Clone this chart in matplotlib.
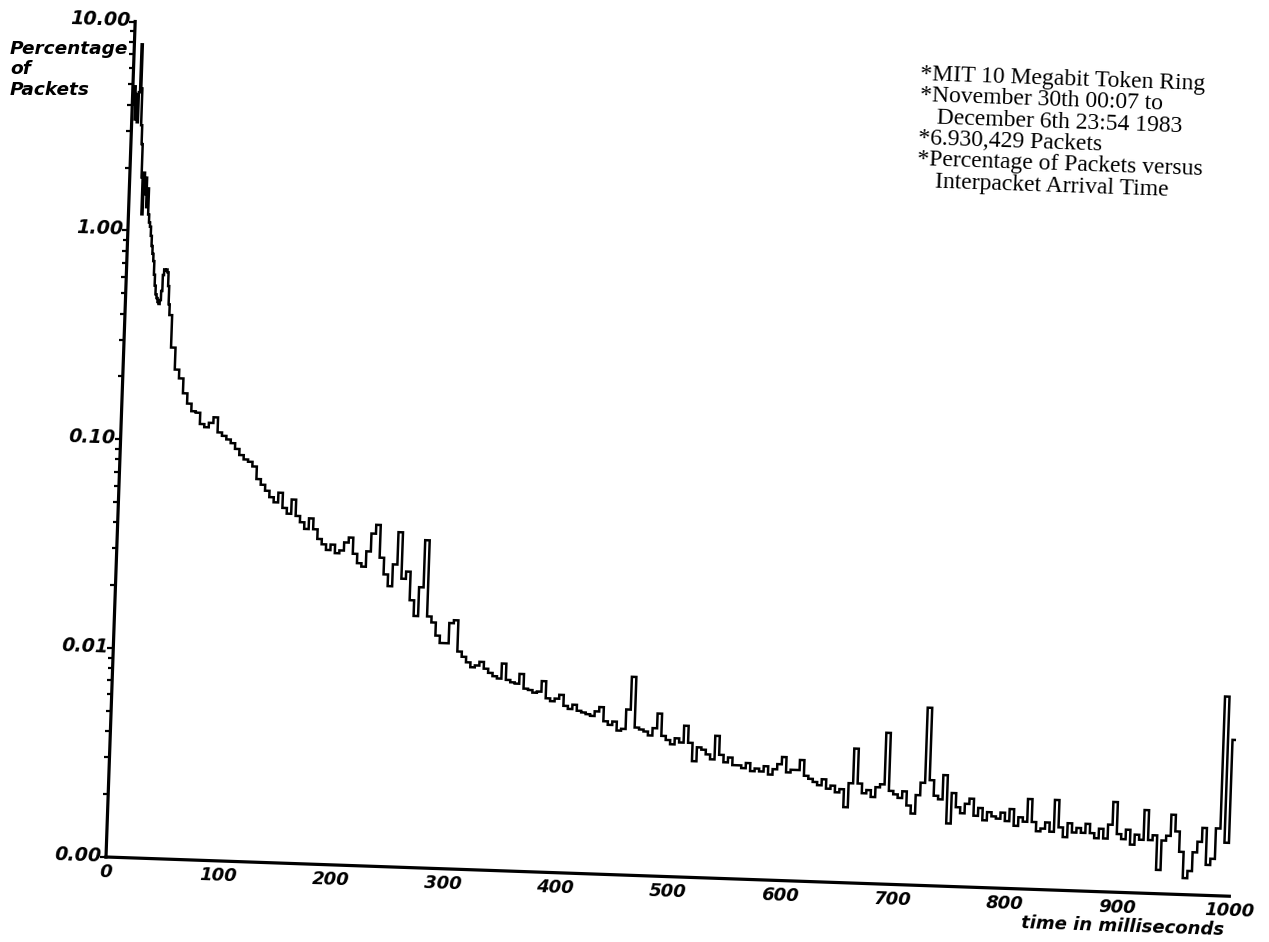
import numpy as np
import matplotlib
matplotlib.use("Agg")
import matplotlib.pyplot as plt
from matplotlib.transforms import Affine2D
from matplotlib.lines import TICKLEFT

# ---------------- data ----------------
head_ms = list(range(1, 40))
head_pct = [4.0, 4.9, 3.4, 4.5, 3.3, 4.6, 7.8, 4.8, 3.2, 2.6,
            1.8, 1.2, 1.9, 1.5, 1.8, 1.3, 1.6, 1.2, 1.1, 1.05,
            0.95, 0.85, 0.78, 0.72, 0.62, 0.55, 0.50, 0.48, 0.46, 0.45,
            0.47, 0.52, 0.62, 0.66, 0.65, 0.66, 0.64, 0.55, 0.45]

tail_ms = list(range(40, 1001, 4))
tail_pct = [
    0.40, 0.28, 0.22, 0.20, 0.17, 0.152, 0.14, 0.138, 0.122, 0.118,          # 40-76
    0.124, 0.132, 0.112, 0.108, 0.104, 0.100, 0.094, 0.088, 0.084, 0.082,   # 80-116
    0.078, 0.068, 0.064, 0.060, 0.056, 0.053, 0.059, 0.050, 0.047, 0.055,   # 120-156
    0.046, 0.043, 0.040, 0.045, 0.040, 0.036, 0.034, 0.032, 0.034, 0.031,   # 160-196
    0.032, 0.035, 0.037, 0.031, 0.028, 0.027, 0.032, 0.039, 0.043, 0.030,   # 200-236
    0.025, 0.022, 0.028, 0.040, 0.024, 0.026, 0.019, 0.016, 0.022, 0.037,   # 240-276
    0.016, 0.015, 0.013, 0.012, 0.012, 0.015, 0.0155, 0.011, 0.0104, 0.0098,  # 280-316
    0.0093, 0.0095, 0.0099, 0.0092, 0.0088, 0.0085, 0.0083, 0.0098, 0.0082, 0.0080,  # 320-356
    0.0079, 0.0088, 0.0075, 0.0074, 0.0072, 0.0073, 0.0082, 0.0068, 0.0066, 0.0068,  # 360-396
    0.0071, 0.0063, 0.0061, 0.0064, 0.0060, 0.0059, 0.0058, 0.0057, 0.0060, 0.0063,  # 400-436
    0.0054, 0.0052, 0.0054, 0.0049, 0.0050, 0.0062, 0.0089, 0.0051, 0.0050, 0.0049,  # 440-476
    0.0047, 0.0051, 0.0060, 0.0047, 0.0045, 0.0043, 0.0046, 0.0044, 0.0053, 0.0044,  # 480-516
    0.0036, 0.0042, 0.0041, 0.0039, 0.0037, 0.0048, 0.0039, 0.0036, 0.0038, 0.0035,  # 520-556
    0.0035, 0.0034, 0.0036, 0.0033, 0.0034, 0.0033, 0.0035, 0.0032, 0.0034, 0.0036,  # 560-596
    0.0039, 0.0033, 0.0034, 0.0034, 0.0038, 0.0032, 0.0031, 0.0030, 0.0029, 0.0031,  # 600-636
    0.0028, 0.0029, 0.0027, 0.0028, 0.0023, 0.0030, 0.0044, 0.0030, 0.0027, 0.0028,  # 640-676
    0.0026, 0.0029, 0.0030, 0.0053, 0.0028, 0.0027, 0.0026, 0.0028, 0.0024, 0.0022,  # 680-716
    0.0027, 0.0031, 0.0071, 0.0032, 0.0027, 0.0026, 0.0034, 0.0020, 0.0028, 0.0024,  # 720-756
    0.00225, 0.0025, 0.00265, 0.0022, 0.0024, 0.0021, 0.0023, 0.0022, 0.00215, 0.0023,  # 760-796
    0.0021, 0.0024, 0.0020, 0.0022, 0.0021, 0.0027, 0.0021, 0.0019, 0.00196, 0.0021,  # 800-836
    0.0019, 0.0027, 0.0020, 0.0018, 0.0021, 0.0019, 0.0020, 0.0019, 0.0021, 0.0019,  # 840-876
    0.0018, 0.0020, 0.0018, 0.0021, 0.0027, 0.0019, 0.0018, 0.0020, 0.0017, 0.0019,  # 880-916
    0.0018, 0.0025, 0.0018, 0.0019, 0.0013, 0.0018, 0.0019, 0.0024, 0.0020, 0.0016,  # 920-956
    0.0012, 0.0013, 0.0016, 0.0018, 0.0021, 0.0014, 0.0015, 0.0021, 0.0090, 0.0018,  # 960-996
    0.0056,                                                                   # 1000
]

ytick_vals = [0.001, 0.01, 0.1, 1.0, 10.0]
ytick_labels = ["0.00", "0.01", "0.10", "1.00", "10.00"]
xtick_vals = [0, 100, 200, 300, 400, 500, 600, 700, 800, 900, 1000]
xtick_labels = ["0", "100", "200", "300", "400", "500", "600", "700", "800", "900", "1000"]
ylabel_lines = ["Percentage", "of", "Packets"]
xlabel = "time in milliseconds"
notes = ["*MIT 10 Megabit Token Ring",
         "*November 30th 00:07 to",
         "   December 6th 23:54 1983",
         "*6.930,429 Packets",
         "*Percentage of Packets versus",
         "   Interpacket Arrival Time"]

# ---------------- figure ----------------
plt.rcParams["font.family"] = ["DejaVu Sans"]
W, H = 1269, 942
fig = plt.figure(figsize=(W / 100, H / 100), dpi=100)
fig.patch.set_facecolor("white")

ox, oy = 106, H - 857          # axis origin in display pixels
ax = fig.add_axes([ox / W, oy / H, 1124 / W, 836 / H])
ax.set_xlim(0, 1000)
ax.set_yscale("log")
ax.set_ylim(0.001, 10)
ax.axis("off")

ANG = -2.0                      # the scanned page is slightly rotated
tr = ax.transData + Affine2D().rotate_deg_around(ox, oy, ANG)

base_font = dict(fontfamily="DejaVu Sans", fontweight="bold", fontstyle="oblique",
                 color="black")

# data curve
ms = head_ms + tail_ms
pct = head_pct + tail_pct
ax.plot(ms, pct, drawstyle="steps-mid", color="black", lw=1.8,
        transform=tr, clip_on=False, solid_joinstyle="miter")

# axis lines
x0, x1 = ax.get_xlim()
y0, y1 = ax.get_ylim()
ax.plot([x0, x0], [y0, y1], color="black", lw=2.3, transform=tr, clip_on=False,
        solid_capstyle="projecting")
ax.plot([x0, x1], [y0, y0], color="black", lw=2.3, transform=tr, clip_on=False,
        solid_capstyle="projecting")

# y ticks (major + minor, pointing left)
minor_vals = [m * 10.0 ** e for e in range(-3, 1) for m in range(2, 10)]
ax.plot([x0] * len(minor_vals), minor_vals, ls="none", marker=TICKLEFT, ms=3.5,
        mew=1.6, color="black", transform=tr, clip_on=False)
ax.plot([x0] * len(ytick_vals), ytick_vals, ls="none", marker=TICKLEFT, ms=4,
        mew=1.6, color="black", transform=tr, clip_on=False)

for v, lab in zip(ytick_vals, ytick_labels):
    ax.annotate(lab, xy=(x0, v), xycoords=tr, xytext=(-5, 1),
                textcoords="offset pixels", ha="right", va="center",
                rotation=ANG, rotation_mode="anchor", annotation_clip=False,
                fontsize=13.7, **base_font)

for v, lab in zip(xtick_vals, xtick_labels):
    ax.annotate(lab, xy=(v, y0), xycoords=tr, xytext=(0, -15),
                textcoords="offset pixels", ha="center", va="center",
                rotation=ANG, rotation_mode="anchor", annotation_clip=False,
                fontsize=13, **base_font)

ax.annotate(xlabel, xy=(x1, y0), xycoords=tr, xytext=(-5, -34),
            textcoords="offset pixels", ha="right", va="center",
            rotation=ANG, rotation_mode="anchor", annotation_clip=False,
            fontsize=13, **base_font)

# y label (three lines, top left)
for i, line in enumerate(ylabel_lines):
    fig.text(10 / W, 1 - (54 + 20.5 * i) / H, line, ha="left", va="baseline",
             fontsize=13.3, **base_font)

# annotation block (top right)
fig.text(921 / W, 1 - 64 / H, "\n".join(notes), ha="left", va="top",
         rotation=ANG, rotation_mode="anchor", linespacing=1.02,
         fontfamily="Liberation Serif", fontsize=17, color="black")

fig.savefig("out.png", dpi=100, facecolor="white")
